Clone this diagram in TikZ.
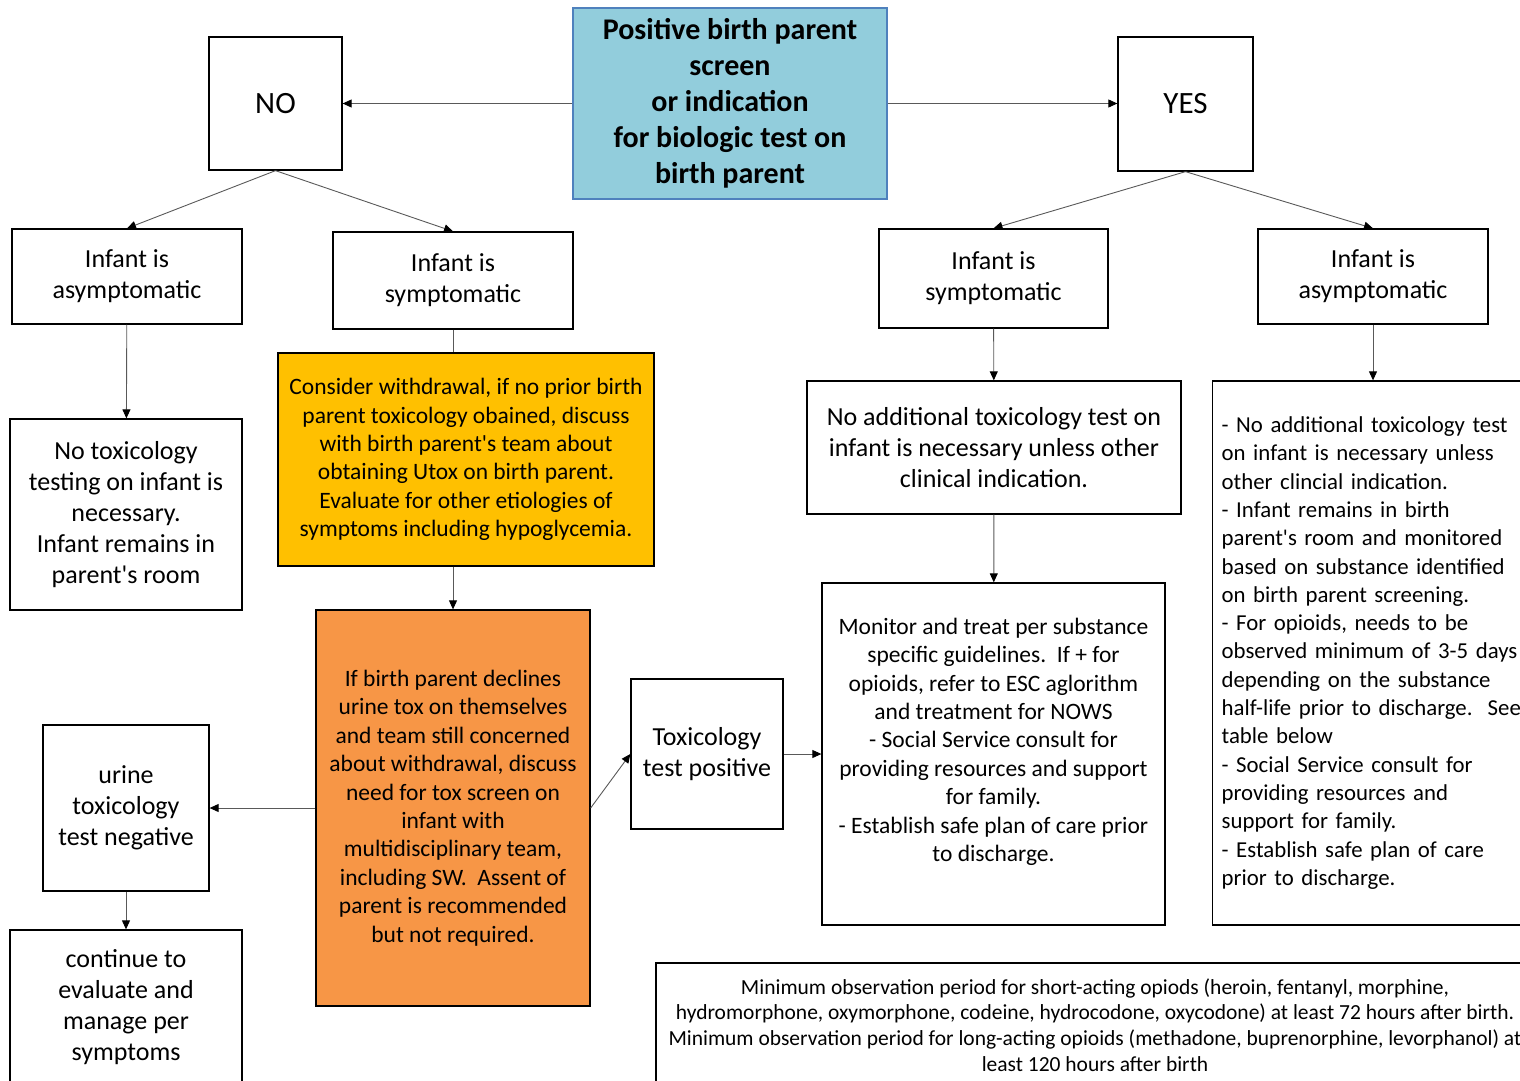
\documentclass[tikz,border=0pt]{standalone}
\usepackage{fontspec}
\setmainfont{Carlito}
\usetikzlibrary{arrows.meta}

\definecolor{skyfill}{HTML}{92CDDC}
\definecolor{skyline}{HTML}{4F81BD}
\definecolor{goldfill}{HTML}{FFC000}
\definecolor{orangefill}{HTML}{F79646}

\begin{document}
\begin{tikzpicture}
        [x=1pt, y=-1pt, font=\fontsize{26}{31}\selectfont, >={Triangle[length=9pt, width=8pt, color=black]},
         box/.style={rectangle, draw=black, line width=1.3pt, align=center, inner sep=0pt},
         smalltext/.style={font=\fontsize{23.5}{28.4}\selectfont},
         link/.style={draw=gray!70!black, line width=0.9pt}]

        \useasboundingbox (0, 0) rectangle (1520, 1081);

        \node[box, fill=skyfill, draw=skyline, minimum width=314pt, minimum height=191pt, font=\fontsize{30}{36}\selectfont\bfseries] (screen) at (730, 103.5) {Positive birth parent\\screen\\or indication\\for biologic test on\\birth parent};
        \node[box, minimum width=133pt, minimum height=133pt, font=\fontsize{31}{36}\selectfont] (no) at (275.5, 103.5) {NO};
        \node[box, minimum width=135pt, minimum height=134pt, font=\fontsize{31}{36}\selectfont] (yes) at (1185.5, 104) {YES};

        % NO side
        \node[box, minimum width=230pt, minimum height=95pt] (noasym) at (127, 276.5) {Infant is\\asymptomatic};
        \node[box, minimum width=240pt, minimum height=97pt] (nosym) at (453, 280.5) {Infant is\\symptomatic};
        \node[box, minimum width=232pt, minimum height=191pt] (notox) at (126, 514.5) {No toxicology\\testing on infant is\\necessary.\\Infant remains in\\parent\textquotesingle s room};
        \node[box, smalltext, fill=goldfill, minimum width=376pt, minimum height=213pt] (withdraw) at (466, 459.5) {Consider withdrawal, if no prior birth\\parent toxicology obained, discuss\\with birth parent\textquotesingle s team about\\obtaining Utox on birth parent.\\Evaluate for other etiologies of\\symptoms including hypoglycemia.};
        \node[box, smalltext, fill=orangefill, minimum width=274pt, minimum height=396pt] (declines) at (453, 808) {If birth parent declines\\urine tox on themselves\\and team still concerned\\about withdrawal, discuss\\need for tox screen on\\infant with\\multidisciplinary team,\\including SW.\ \ Assent of\\parent is recommended\\but not required.};
        \node[box, minimum width=166pt, minimum height=166pt] (negative) at (126, 808) {urine\\toxicology\\test negative};
        \node[box, minimum width=232pt, minimum height=155pt] (continue) at (126, 1007.5) {continue to\\evaluate and\\manage per\\symptoms};
        \node[box, minimum width=152pt, minimum height=150pt] (positive) at (707, 754) {Toxicology\\test positive};

        % YES side
        \node[box, minimum width=229pt, minimum height=99pt] (yessym) at (993.5, 278.5) {Infant is\\symptomatic};
        \node[box, minimum width=230pt, minimum height=95pt] (yesasym) at (1373, 276.5) {Infant is\\asymptomatic};
        \node[box, minimum width=374pt, minimum height=133pt] (yesnotox) at (994, 447.5) {No additional toxicology test on\\infant is necessary unless other\\clinical indication.};
        \node[box, smalltext, minimum width=343pt, minimum height=342pt] (monitor) at (993.5, 754) {Monitor and treat per substance\\specific guidelines.\ \ If + for\\opioids, refer to ESC aglorithm\\and treatment for NOWS\\- Social Service consult for\\providing resources and support\\for family.\\- Establish safe plan of care prior\\to discharge.\\\mbox{}};
        \node[box, font=\fontsize{22.8}{28.3}\selectfont, align=left, text width=330pt, inner xsep=9pt, minimum height=544pt, anchor=west] (yesplan) at (1212, 653) {- No additional toxicology test\\on infant is necessary unless\\other clincial indication.\\- Infant remains in birth\\parent\textquotesingle s room and monitored\\based on substance identified\\on birth parent screening.\\- For opioids, needs to be\\observed minimum of 3-5 days\\depending on the substance\\half-life prior to discharge.\ \ See\\table below\\- Social Service consult for\\providing resources and\\support for family.\\- Establish safe plan of care\\prior to discharge.};
        \node[box, font=\fontsize{21.5}{25.6}\selectfont, minimum width=878pt, minimum height=124pt] (opioids) at (1095, 1025) {Minimum observation period for short-acting opiods (heroin, fentanyl, morphine,\\hydromorphone, oxymorphone, codeine, hydrocodone, oxycodone) at least 72 hours after birth.\\Minimum observation period for long-acting opioids (methadone, buprenorphine, levorphanol) at\\least 120 hours after birth};

        \draw[link, ->] (screen) -- (no);
        \draw[link, ->] (screen.east) -- (screen.east -| yes.west);
        \draw[link, ->] (no.south) -- (noasym.north);
        \draw[link, ->] (no.south) -- (nosym.north);
        \draw[link, ->] (yes.south) -- (yessym.north);
        \draw[link, ->] (yes.south) -- (yesasym.north);

        \draw[link, ->] (noasym) -- (notox);
        \draw[link] (nosym.south) -- (nosym.south |- withdraw.north);
        \draw[link, ->] (declines.north |- withdraw.south) -- (declines.north);
        \draw[link, ->] (declines) -- (negative);
        \draw[link, ->] (negative) -- (continue);
        \draw[link, ->] (declines.east) -- (positive.west);
        \draw[link, ->] (positive) -- (monitor);

        \draw[link, ->] (yessym) -- (yesnotox);
        \draw[link, ->] (yesnotox) -- (monitor);
        \draw[link, ->] (yesasym.south) -- (yesasym.south |- yesplan.north);
    \end{tikzpicture}
\end{document}
